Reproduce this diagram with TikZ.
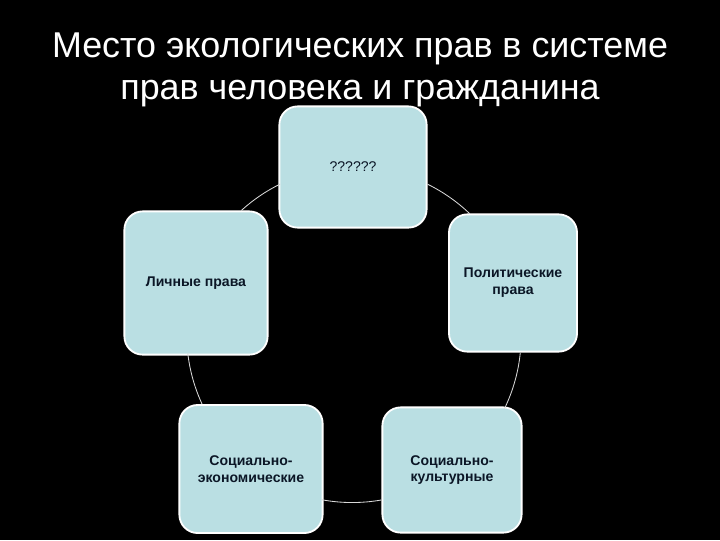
\documentclass[tikz,border=0pt]{standalone}
\usepackage{fontspec}
\setmainfont{Liberation Sans}
\usetikzlibrary{positioning}

\definecolor{boxblue}{HTML}{BADFE3}
\definecolor{boxtext}{HTML}{0B1626}
\definecolor{arcgrey}{HTML}{D8D8D8}

\tikzset{
  rightsbox/.style={rectangle,rounded corners=13pt,fill=boxblue,draw=white,line width=1.3pt,
    align=center,text=boxtext,font=\bfseries\fontsize{10}{12}\selectfont},
  titleline/.style={text=white,anchor=base,font=\fontsize{25.5}{30}\selectfont},
  ring/.style={arcgrey,line width=0.6pt}
}

\begin{document}
\begin{tikzpicture}[x=0.025cm,y=-0.025cm]
        \useasboundingbox (0,0) rectangle (720,540);
        \fill[black] (0,0) rectangle (720,540);
        \node[titleline] (title1) at (360,57) {Место экологических прав в системе};
        \node[titleline] (title2) at (360,99) {прав человека и гражданина};
        \node[rightsbox,minimum width=3.68cm,minimum height=3.03cm,font=\fontsize{10}{12}\selectfont] (unknown) at (353,167) {??????};
        \node[rightsbox,minimum width=3.58cm,minimum height=3.58cm] (personal) at (196,283) {Личные права};
        \node[rightsbox,minimum width=3.2cm,minimum height=3.43cm] (political) at (513,283) {Политические\\права};
        \node[rightsbox,minimum width=3.58cm,minimum height=3.2cm] (socecon) at (251,469) {Социально-\\экономические};
        \node[rightsbox,minimum width=3.48cm,minimum height=3.13cm] (soccult) at (452,470) {Социально-\\культурные};
        % ring between the boxes, radius 167 round (353,335)
        \draw[ring] (unknown.-13.8) arc[start angle=-63.9, end angle=-46.2, radius=167];
        \draw[ring] (political.-84.8) arc[start angle=5.7, end angle=25.7, radius=167];
        \draw[ring] (soccult.-157.1) arc[start angle=79.9, end angle=100.5, radius=167];
        \draw[ring] (socecon.127.8) arc[start angle=155.2, end angle=173.3, radius=167];
        \draw[ring] (personal.58) arc[start angle=227.7, end angle=243.85, radius=167];
    \end{tikzpicture}
\end{document}
